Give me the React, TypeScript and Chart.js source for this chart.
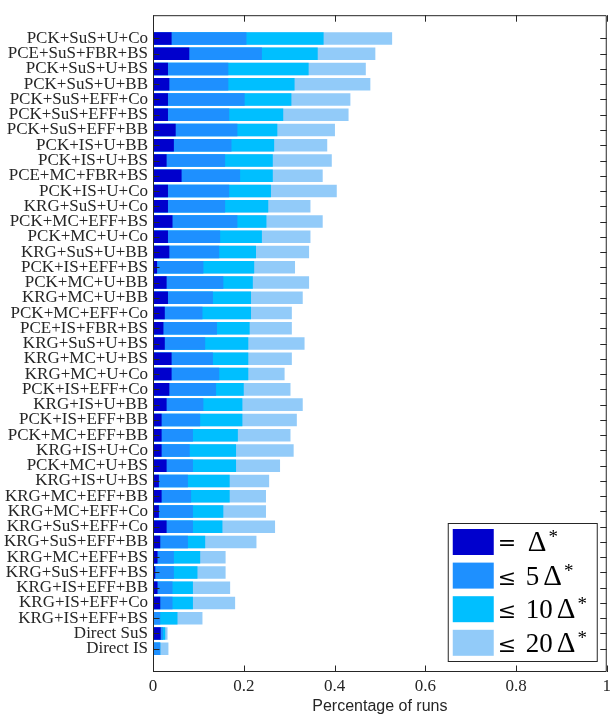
import { useEffect, useRef } from 'react';
import { Chart, registerables } from 'chart.js';

Chart.register(...registerables);

const labels = [
  'PCK+SuS+U+Co', 'PCE+SuS+FBR+BS', 'PCK+SuS+U+BS', 'PCK+SuS+U+BB', 'PCK+SuS+EFF+Co',
  'PCK+SuS+EFF+BS', 'PCK+SuS+EFF+BB', 'PCK+IS+U+BB', 'PCK+IS+U+BS', 'PCE+MC+FBR+BS',
  'PCK+IS+U+Co', 'KRG+SuS+U+Co', 'PCK+MC+EFF+BS', 'PCK+MC+U+Co', 'KRG+SuS+U+BB',
  'PCK+IS+EFF+BS', 'PCK+MC+U+BB', 'KRG+MC+U+BB', 'PCK+MC+EFF+Co', 'PCE+IS+FBR+BS',
  'KRG+SuS+U+BS', 'KRG+MC+U+BS', 'KRG+MC+U+Co', 'PCK+IS+EFF+Co', 'KRG+IS+U+BB',
  'PCK+IS+EFF+BB', 'PCK+MC+EFF+BB', 'KRG+IS+U+Co', 'PCK+MC+U+BS', 'KRG+IS+U+BS',
  'KRG+MC+EFF+BB', 'KRG+MC+EFF+Co', 'KRG+SuS+EFF+Co', 'KRG+SuS+EFF+BB', 'KRG+MC+EFF+BS',
  'KRG+SuS+EFF+BS', 'KRG+IS+EFF+BB', 'KRG+IS+EFF+Co', 'KRG+IS+EFF+BS', 'Direct SuS',
  'Direct IS'
];

// share of runs within each tolerance (cumulative)
const exact = [
  0.041, 0.080, 0.033, 0.036, 0.033, 0.033, 0.050, 0.046, 0.030, 0.063,
  0.033, 0.033, 0.043, 0.033, 0.036, 0.009, 0.030, 0.033, 0.026, 0.023,
  0.026, 0.041, 0.041, 0.036, 0.030, 0.019, 0.019, 0.019, 0.030, 0.013,
  0.019, 0.013, 0.030, 0.016, 0.010, 0.005, 0.010, 0.016, 0.002, 0.017,
  0.001
];
const within5 = [
  0.206, 0.240, 0.166, 0.166, 0.202, 0.168, 0.186, 0.173, 0.159, 0.192,
  0.168, 0.159, 0.186, 0.148, 0.146, 0.111, 0.155, 0.132, 0.109, 0.141,
  0.115, 0.132, 0.146, 0.139, 0.111, 0.104, 0.088, 0.081, 0.088, 0.077,
  0.084, 0.088, 0.088, 0.077, 0.046, 0.046, 0.043, 0.043, 0.016, 0.022,
  0.016
];
const within10 = [
  0.376, 0.363, 0.343, 0.312, 0.305, 0.287, 0.274, 0.267, 0.264, 0.264,
  0.260, 0.254, 0.250, 0.240, 0.227, 0.223, 0.220, 0.216, 0.216, 0.213,
  0.210, 0.210, 0.210, 0.200, 0.197, 0.197, 0.187, 0.183, 0.183, 0.169,
  0.169, 0.155, 0.153, 0.115, 0.104, 0.098, 0.088, 0.088, 0.054, 0.027,
  0.016
];
const within20 = [
  0.527, 0.490, 0.469, 0.479, 0.435, 0.431, 0.401, 0.384, 0.394, 0.374,
  0.405, 0.347, 0.374, 0.347, 0.344, 0.313, 0.344, 0.330, 0.306, 0.306,
  0.334, 0.306, 0.290, 0.303, 0.330, 0.317, 0.303, 0.310, 0.280, 0.256,
  0.249, 0.249, 0.269, 0.228, 0.160, 0.160, 0.170, 0.181, 0.109, 0.032,
  0.034
];

const xTicks = [0, 0.2, 0.4, 0.6, 0.8, 1];
const legendPrefix = ['=', '≤', '≤', '≤'];
const legendFactor = ['', '5', '10', '20'];
const seriesColors = ['#0000cd', '#1e90ff', '#00bfff', '#92cbf9'];

const serif = '"Liberation Serif", "DejaVu Serif", serif';
const axisColor = '#262626';

// MATLAB style box with inward ticks
const boxPlugin = {
  id: 'box',
  afterDatasetsDraw(chart: Chart) {
    const { ctx, chartArea: a, scales } = chart;
    const len = 6.5;
    ctx.save();
    ctx.strokeStyle = axisColor;
    ctx.lineWidth = 1;
    ctx.beginPath();
    ctx.rect(a.left + 0.5, a.top + 0.5, a.width - 1, a.height - 1);
    for (const v of xTicks) {
      const px = Math.round(scales.x.getPixelForValue(v)) + 0.5;
      ctx.moveTo(px, a.bottom);
      ctx.lineTo(px, a.bottom - len);
      ctx.moveTo(px, a.top);
      ctx.lineTo(px, a.top + len);
    }
    labels.forEach((_, i) => {
      const py = Math.round(scales.y.getPixelForValue(i + 1)) + 0.5;
      ctx.moveTo(a.left, py);
      ctx.lineTo(a.left + len, py);
      ctx.moveTo(a.right, py);
      ctx.lineTo(a.right - len, py);
    });
    ctx.stroke();
    ctx.restore();
  }
};

const legendPlugin = {
  id: 'boxLegend',
  afterDraw(chart: Chart) {
    const { ctx, chartArea: a } = chart;
    const right = a.right - 10;
    const bottom = a.bottom - 11;
    const w = 149;
    const h = 138;
    const left = right - w;
    const top = bottom - h;
    ctx.save();
    ctx.fillStyle = '#ffffff';
    ctx.fillRect(left, top, w, h);
    ctx.strokeStyle = axisColor;
    ctx.lineWidth = 1;
    ctx.strokeRect(left + 0.5, top + 0.5, w, h);
    ctx.textBaseline = 'alphabetic';
    ctx.textAlign = 'left';
    legendPrefix.forEach((prefix, i) => {
      const cy = top + 19 + i * 33.6;
      const base = cy + 9;
      ctx.fillStyle = seriesColors[i];
      ctx.fillRect(left + 5, cy - 13, 41, 26);
      ctx.fillStyle = '#000000';
      ctx.font = '22px "DejaVu Serif", serif';
      ctx.fillText(prefix, left + 50, base + (i === 0 ? -1 : 0));
      let x = left + 80;
      if (legendFactor[i]) {
        ctx.font = `27px ${serif}`;
        ctx.fillText(legendFactor[i], left + 78, base);
        x = left + 78 + ctx.measureText(legendFactor[i]).width + 4;
      }
      ctx.font = `29px ${serif}`;
      ctx.fillText('Δ', x, base);
      x += ctx.measureText('Δ').width + 2;
      ctx.font = `19px ${serif}`;
      ctx.fillText('*', x, cy + 1);
    });
    ctx.restore();
  }
};

const App: React.FC = () => {
  const chartRef = useRef<HTMLCanvasElement>(null);
  const chartInstanceRef = useRef<Chart | null>(null);

  useEffect(() => {
    document.body.style.margin = '0';
    const canvas = chartRef.current;
    if (!canvas) return;

    const ctx = canvas.getContext('2d');
    if (!ctx) return;

    if (chartInstanceRef.current) {
      chartInstanceRef.current.destroy();
    }

    const series = [exact, within5, within10, within20];

    chartInstanceRef.current = new Chart(ctx, {
      type: 'bar',
      data: {
        datasets: series.map((values, s) => ({
          label: `${legendPrefix[s]} ${legendFactor[s]} Δ*`,
          data: values.map((v, i) => ({ x: v, y: i + 1 })),
          backgroundColor: seriesColors[s],
          borderWidth: 0,
          grouped: false,
          barPercentage: 0.82,
          categoryPercentage: 1
        }))
      },
      options: {
        indexAxis: 'y',
        responsive: false,
        animation: false,
        layout: { padding: { top: 3, right: 8, left: 0, bottom: 0 } },
        plugins: {
          legend: { display: false },
          tooltip: { enabled: false }
        },
        scales: {
          x: {
            type: 'linear',
            min: 0,
            max: 1,
            afterBuildTicks: (scale: any) => {
              scale.ticks = xTicks.map((v) => ({ value: v }));
            },
            afterFit: (scale: any) => {
              scale.height = 49;
            },
            ticks: {
              color: axisColor,
              font: { family: serif, size: 17 },
              padding: 4,
              callback: (v: any) => String(v)
            },
            grid: { display: false, drawTicks: false },
            border: { display: false },
            title: {
              display: true,
              text: 'Percentage of runs',
              color: axisColor,
              font: { family: '"Liberation Sans", Arial, sans-serif', size: 16 },
              padding: { top: 0, bottom: 5 }
            }
          },
          y: {
            type: 'linear',
            min: 0,
            max: 42,
            reverse: true,
            afterBuildTicks: (scale: any) => {
              scale.ticks = labels.map((_, i) => ({ value: i + 1 }));
            },
            afterFit: (scale: any) => {
              scale.width = 153;
            },
            ticks: {
              autoSkip: false,
              color: axisColor,
              font: { family: serif, size: 17 },
              padding: 5,
              callback: (v: any) => labels[Number(v) - 1] ?? ''
            },
            grid: { display: false, drawTicks: false },
            border: { display: false }
          }
        }
      },
      plugins: [boxPlugin, legendPlugin]
    });

    return () => {
      if (chartInstanceRef.current) {
        chartInstanceRef.current.destroy();
      }
    };
  }, []);

  return (
    <div style={{ width: '615px', height: '721px', background: '#ffffff' }}>
      <canvas ref={chartRef} width={615} height={721}></canvas>
    </div>
  );
};

export default App;
